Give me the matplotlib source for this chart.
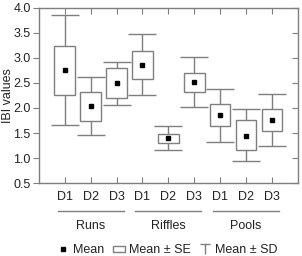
import numpy as np
import matplotlib.pyplot as plt
from matplotlib.lines import Line2D
from matplotlib.path import Path

plt.rcParams['font.family'] = ['Liberation Sans', 'DejaVu Sans']

# values
groups = ['Runs', 'Riffles', 'Pools']
sites = ['D1', 'D2', 'D3']
mean = [2.75, 2.04, 2.49, 2.85, 1.41, 2.51, 1.86, 1.45, 1.76]
se_lo = [2.26, 1.75, 2.19, 2.57, 1.31, 2.32, 1.64, 1.16, 1.54]
se_hi = [3.23, 2.32, 2.79, 3.13, 1.49, 2.70, 2.07, 1.76, 1.97]
sd_lo = [1.66, 1.46, 2.05, 2.25, 1.16, 2.01, 1.32, 0.95, 1.24]
sd_hi = [3.85, 2.61, 2.91, 3.47, 1.65, 3.01, 2.38, 1.97, 2.27]

grey = '#7f7f7f'
txt = '#222222'

x = np.arange(1, len(mean) + 1)
mean = np.array(mean)
se_lo, se_hi = np.array(se_lo), np.array(se_hi)
sd_lo, sd_hi = np.array(sd_lo), np.array(sd_hi)

fig = plt.figure(figsize=(3.02, 2.56), dpi=100)
ax = fig.add_axes([0.129, 0.285, 0.857, 0.684])

# SD whiskers
ax.errorbar(x, mean, yerr=[mean - sd_lo, sd_hi - mean], fmt='none',
            ecolor=grey, elinewidth=1.0, capsize=10, capthick=1.0, zorder=1)
# SE boxes
ax.bar(x, se_hi - se_lo, bottom=se_lo, width=0.8, color='white',
       edgecolor=grey, linewidth=1.0, zorder=2)
# means
ax.plot(x, mean, 's', color='black', markersize=2.8, zorder=3)

ax.set_xlim(0, 10)
ax.set_ylim(0.5, 4.0)
ax.set_yticks(np.arange(0.5, 4.01, 0.5))
ax.set_yticklabels([f'{v:.1f}' for v in np.arange(0.5, 4.01, 0.5)])
ax.set_xticks(x)
ax.set_xticklabels(sites * len(groups))
ax.set_ylabel('IBI values', fontsize=9, color=txt)
ax.yaxis.set_label_coords(-0.095, 0.5)

for s in ax.spines.values():
    s.set_color(grey)
    s.set_linewidth(1.0)

ax.tick_params(axis='y', which='both', direction='out', length=4, color=grey,
               labelsize=9, labelcolor=txt, pad=2, right=True)
ax.tick_params(axis='y', which='both', labelright=False)
ax.tick_params(axis='x', direction='in', length=4, color=grey,
               labelsize=9, labelcolor=txt, pad=6, top=True)
# right ticks point inward
for t in ax.yaxis.get_major_ticks():
    t.tick2line.set_marker(0)  # TICKLEFT
    t.tick2line.set_markersize(4)

# group lines and labels under the axis
trans = ax.get_xaxis_transform()
for i, g in enumerate(groups):
    c = 2 + 3 * i
    ax.plot([c - 1.28, c + 1.28], [-0.16, -0.16], color=grey, lw=1.0,
            transform=trans, clip_on=False)
    ax.text(c, -0.245, g, transform=trans, ha='center', va='center',
            fontsize=9, color=txt)

tee = Path([(-1, 1), (1, 1), (0, 1), (0, -1)],
           [Path.MOVETO, Path.LINETO, Path.MOVETO, Path.LINETO])
rect = Path([(-1, -0.55), (1, -0.55), (1, 0.55), (-1, 0.55), (-1, -0.55)],
            [Path.MOVETO, Path.LINETO, Path.LINETO, Path.LINETO, Path.CLOSEPOLY])
handles = [
    Line2D([], [], ls='none', marker='s', color='black', markersize=3),
    Line2D([], [], ls='none', marker=rect, markerfacecolor='white',
           markeredgecolor=grey, markersize=9, markeredgewidth=1.0),
    Line2D([], [], ls='none', marker=tee, color=grey, markersize=7,
           markeredgewidth=1.0, fillstyle='none'),
]
ax.legend(handles, ['Mean', 'Mean \u00b1 SE', 'Mean \u00b1 SD'],
          loc='center', bbox_to_anchor=(0.5, -0.385), ncol=3, frameon=False,
          fontsize=9, handlelength=0.7, handletextpad=0.45, columnspacing=0.8,
          labelcolor=txt)

plt.savefig('out.png', dpi=100)
